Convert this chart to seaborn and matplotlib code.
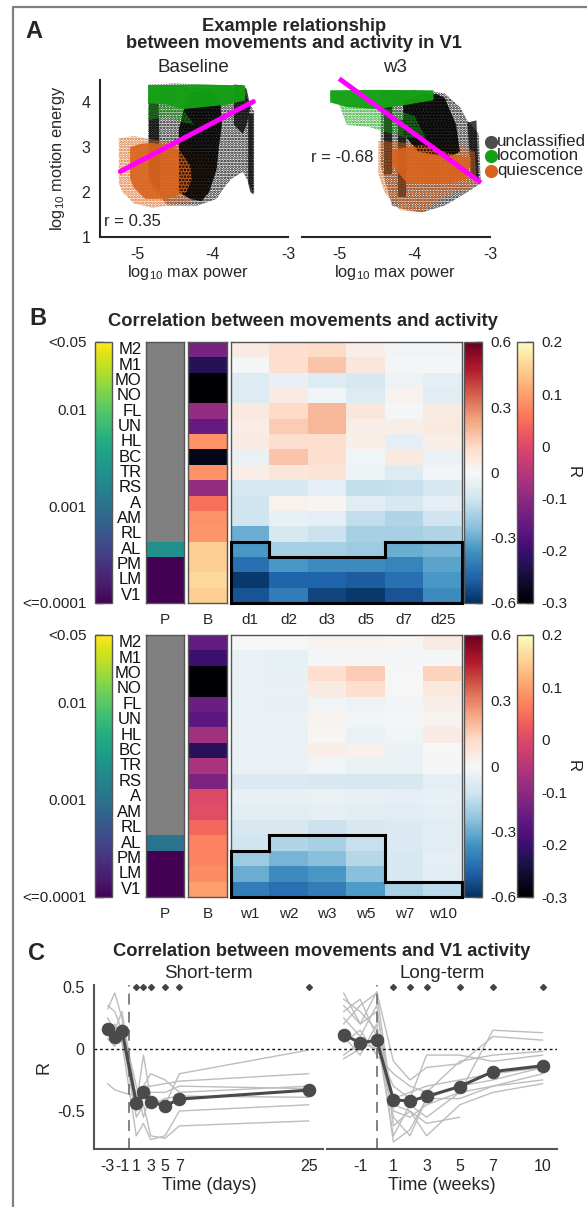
import numpy as np
import matplotlib
matplotlib.use("Agg")
import matplotlib.pyplot as plt
import seaborn as sns
import pandas as pd
from matplotlib.colors import LogNorm, Normalize
from matplotlib.cm import ScalarMappable
from matplotlib.lines import Line2D
from matplotlib.ticker import LogLocator, NullFormatter

# ----------------------------------------------------------------- data
nan = np.nan
regions = ['M2', 'M1', 'MO', 'NO', 'FL', 'UN', 'HL', 'BC', 'TR', 'RS',
           'A', 'AM', 'RL', 'AL', 'PM', 'LM', 'V1']
day_cols = ['d1', 'd2', 'd3', 'd5', 'd7', 'd25']
week_cols = ['w1', 'w2', 'w3', 'w5', 'w7', 'w10']

p_short = [nan] * 13 + [0.0022, 0.0001, 0.0001, 0.0001]
p_long = [nan] * 13 + [0.0011, 0.0001, 0.0001, 0.0001]

b_short = [-0.125, -0.225, -0.30, -0.30, -0.09, -0.15, 0.085, -0.275, 0.085,
           -0.09, 0.05, 0.085, 0.09, 0.15, 0.15, 0.16, 0.15]
b_long = [-0.15, -0.20, -0.30, -0.30, -0.14, -0.16, -0.075, -0.22, -0.065,
          -0.12, 0.0, 0.005, 0.04, 0.07, 0.07, 0.08, 0.10]

r_short = [
    [0.05, 0.10, 0.12, 0.04, -0.02, -0.02],
    [-0.01, 0.10, 0.17, 0.07, -0.01, -0.01],
    [-0.08, -0.05, -0.08, -0.10, -0.03, -0.06],
    [-0.08, 0.05, -0.02, -0.08, 0.02, -0.07],
    [0.06, 0.12, 0.20, 0.07, -0.01, 0.05],
    [0.04, 0.15, 0.20, 0.04, 0.04, 0.06],
    [0.05, 0.10, 0.10, 0.04, -0.06, 0.04],
    [-0.04, 0.17, 0.10, -0.02, 0.06, -0.04],
    [0.04, 0.07, 0.08, -0.03, -0.08, -0.02],
    [-0.10, -0.10, -0.06, -0.15, -0.14, -0.10],
    [-0.12, 0.02, 0.01, -0.07, -0.10, -0.06],
    [-0.12, -0.05, -0.06, -0.15, -0.18, -0.12],
    [-0.30, -0.10, -0.13, -0.20, -0.20, -0.18],
    [-0.35, -0.20, -0.20, -0.22, -0.30, -0.28],
    [-0.45, -0.35, -0.38, -0.38, -0.40, -0.32],
    [-0.58, -0.48, -0.48, -0.50, -0.45, -0.35],
    [-0.52, -0.42, -0.55, -0.58, -0.52, -0.38],
]
r_long = [
    [0.00, 0.00, 0.02, 0.02, 0.01, 0.05],
    [-0.04, -0.05, -0.01, -0.01, -0.01, -0.01],
    [-0.04, -0.05, 0.10, 0.15, 0.00, 0.14],
    [-0.04, -0.04, 0.05, 0.10, 0.00, 0.06],
    [-0.04, -0.05, -0.02, -0.03, -0.02, 0.04],
    [-0.04, -0.04, 0.02, -0.02, -0.01, 0.02],
    [-0.04, -0.04, 0.01, -0.04, -0.02, 0.05],
    [-0.04, -0.04, 0.04, 0.03, -0.04, 0.00],
    [-0.04, -0.04, -0.02, -0.04, -0.04, -0.01],
    [-0.09, -0.09, -0.10, -0.10, -0.10, -0.06],
    [-0.05, -0.05, -0.04, -0.05, -0.06, -0.05],
    [-0.07, -0.07, -0.06, -0.07, -0.07, -0.06],
    [-0.10, -0.10, -0.13, -0.10, -0.09, -0.07],
    [-0.12, -0.18, -0.20, -0.14, -0.09, -0.07],
    [-0.22, -0.28, -0.25, -0.17, -0.10, -0.06],
    [-0.30, -0.38, -0.35, -0.25, -0.10, -0.07],
    [-0.42, -0.45, -0.42, -0.34, -0.20, -0.16],
]
sig_short = [[0] * 6] * 13 + [[1, 0, 0, 0, 1, 1], [1] * 6, [1] * 6, [1] * 6]
sig_long = [[0] * 6] * 13 + [[0, 1, 1, 1, 0, 0], [1, 1, 1, 1, 0, 0],
                             [1, 1, 1, 1, 0, 0], [1] * 6]

# panel C
days = [-3, -2, -1, 1, 2, 3, 5, 7, 25]
mean_days = [0.163, 0.093, 0.147, -0.436, -0.351, -0.425, -0.46, -0.404, -0.332]
animals_days = [
    [0.32, 0.45, 0.25, -0.45, -0.05, -0.40, -0.45, -0.20, -0.01],
    [0.20, 0.05, 0.10, -0.55, -0.45, -0.70, -0.72, -0.62, -0.58],
    [-0.28, -0.33, -0.35, -0.38, -0.30, -0.30, -0.28, -0.26, -0.20],
    [0.12, 0.20, 0.05, -0.70, -0.60, -0.73, -0.70, -0.50, -0.45],
    [0.25, 0.15, 0.30, -0.40, -0.35, -0.45, -0.40, -0.38, -0.39],
    [0.08, 0.02, 0.20, -0.30, -0.55, -0.35, -0.35, -0.30, -0.32],
    [0.35, 0.30, 0.15, -0.50, -0.30, -0.20, -0.25, -0.35, -0.30],
]
sig_days = [1, 2, 3, 5, 7, 25]
weeks = [-2, -1, 0, 1, 2, 3, 5, 7, 10]
mean_weeks = [0.115, 0.048, 0.069, -0.41, -0.42, -0.383, -0.303, -0.183, -0.136]
animals_weeks = [
    [0.45, 0.20, 0.46, -0.10, -0.25, -0.15, -0.12, 0.10, 0.07],
    [0.30, 0.40, 0.10, -0.55, -0.70, -0.40, -0.30, -0.25, -0.15],
    [0.25, 0.10, 0.35, -0.62, -0.50, -0.70, -0.45, -0.35, -0.28],
    [-0.05, 0.05, 0.00, -0.30, -0.40, -0.05, -0.05, -0.10, -0.05],
    [0.10, -0.05, 0.20, -0.75, -0.65, -0.40, -0.40, -0.30, -0.25],
    [0.35, 0.20, 0.30, -0.45, -0.50, -0.60, -0.55, nan, nan],
    [0.05, 0.15, -0.05, -0.20, -0.30, -0.35, -0.10, -0.05, -0.02],
    [0.40, 0.30, 0.15, -0.40, -0.35, -0.30, -0.25, -0.20, -0.15],
    [-0.08, 0.00, 0.10, -0.70, -0.45, -0.55, -0.35, -0.30, -0.20],
    [0.20, 0.35, 0.45, -0.50, -0.55, -0.45, -0.35, 0.15, 0.13],
]
sig_weeks = [1, 2, 3, 5, 7, 10]

# panel A: outlines of the point clouds (log10 max power, log10 motion energy)
# baseline session
base_black_x = [-4.86, -4.5, -4.1, -3.8, -3.62, -3.55, -3.45, -3.45, -3.55, -3.6,
                -3.75, -3.85, -3.95, -4.2, -4.6, -4.86]
base_black_y = [4.4, 4.42, 4.4, 4.38, 4.35, 4.1, 3.8, 1.95, 2.3, 2.45,
                2.3, 2.1, 1.85, 1.7, 1.7, 2.2]
base_blackcore_x = [-4.45, -4.38, -4.3, -4.15, -4.05, -3.95, -3.9, -3.88, -3.92,
                    -3.95, -4.05, -4.15, -4.3, -4.45]
base_blackcore_y = [3.4, 3.9, 4.2, 4.25, 4.3, 4.2, 4.0, 3.5, 3.0, 2.5, 2.0, 1.8, 1.85, 2.0]
base_streak1_x = [-3.53, -3.46, -3.46, -3.5, -3.53]
base_streak1_y = [3.75, 3.75, 1.95, 2.0, 2.2]
base_streak2_x = [-3.72, -3.6, -3.55, -3.5, -3.55, -3.6, -3.72]
base_streak2_y = [4.4, 4.38, 4.3, 3.9, 3.5, 3.3, 3.5]
base_streak3_x = [-4.85, -4.72, -4.7, -4.85]
base_streak3_y = [4.0, 4.0, 2.0, 2.3]
base_orange_x = [-5.25, -5.05, -4.9, -4.7, -4.5, -4.35, -4.1, -3.95, -4.05, -4.1,
                 -4.3, -4.45, -4.6, -4.8, -5.05, -5.2, -5.25]
base_orange_y = [3.2, 3.25, 3.2, 3.15, 3.1, 3.05, 2.95, 2.5, 2.2, 1.9,
                 1.8, 1.75, 1.7, 1.65, 1.75, 2.0, 2.2]
base_orangecore_x = [-5.1, -4.95, -4.8, -4.6, -4.45, -4.3, -4.28, -4.35, -4.6, -4.9, -5.05, -5.1]
base_orangecore_y = [3.0, 3.08, 3.1, 3.02, 2.95, 2.6, 2.3, 2.0, 1.85, 1.85, 2.1, 2.3]
base_green_x = [-4.86, -4.2, -3.57, -3.57, -3.8, -4.1, -4.4, -4.6, -4.86]
base_green_y = [4.38, 4.4, 4.38, 4.05, 3.95, 3.9, 3.85, 3.95, 3.98]
base_greentail_x = [-4.86, -4.55, -4.4, -4.25, -4.5, -4.6, -4.86]
base_greentail_y = [4.0, 3.95, 3.85, 3.5, 3.6, 3.7, 3.6]
# week-3 session
w3_black_x = [-4.45, -4.2, -4.0, -3.8, -3.6, -3.4, -3.3, -3.15, -3.12, -3.3,
              -3.4, -3.6, -3.9, -4.1, -4.3, -4.45]
w3_black_y = [4.25, 4.27, 4.28, 4.25, 4.2, 3.9, 3.6, 3.3, 2.2, 2.0,
              1.9, 1.7, 1.55, 1.6, 1.7, 2.6]
w3_blackcore_x = [-4.15, -4.0, -3.85, -3.7, -3.6, -3.45, -3.4, -3.5, -3.6, -3.95, -4.15]
w3_blackcore_y = [4.0, 4.12, 4.2, 4.18, 4.1, 3.5, 2.9, 2.82, 2.8, 2.9, 3.3]
w3_streak1_x = [-3.3, -3.18, -3.15, -3.25]
w3_streak1_y = [3.55, 3.6, 2.3, 2.3]
w3_streak2_x = [-4.4, -4.3, -4.3, -4.4]
w3_streak2_y = [3.9, 3.9, 2.4, 2.4]
w3_streak3_x = [-4.22, -4.12, -4.12, -4.22]
w3_streak3_y = [3.6, 3.6, 1.9, 1.9]
w3_orange_x = [-4.48, -4.3, -4.1, -3.85, -3.6, -3.4, -3.2, -3.18, -3.3, -3.5,
               -3.7, -3.9, -4.2, -4.4, -4.48]
w3_orange_y = [3.15, 3.12, 3.1, 3.15, 3.15, 3.05, 2.9, 2.2, 2.05, 2.0,
               1.8, 1.55, 1.6, 2.0, 2.4]
w3_orangecore_x = [-4.3, -4.1, -3.9, -3.7, -3.5, -3.25, -3.28, -3.3, -3.5, -3.7, -4.1, -4.3]
w3_orangecore_y = [2.95, 3.0, 3.05, 2.95, 2.85, 2.75, 2.5, 2.3, 2.2, 2.2, 2.2, 2.6]
w3_green_x = [-5.12, -4.5, -3.75, -3.75, -4.1, -4.5, -4.9, -5.12]
w3_green_y = [4.27, 4.28, 4.27, 4.05, 3.95, 3.85, 3.9, 4.0]
w3_greentail_x = [-5.0, -4.6, -4.3, -4.0, -3.85, -4.0, -4.2, -4.6, -4.9]
w3_greentail_y = [3.95, 3.9, 3.85, 3.7, 3.2, 3.2, 3.25, 3.45, 3.5]

fit_base_x = [-5.23, -3.46]
fit_base_y = [2.46, 4.02]
fit_w3_x = [-5.0, -3.12]
fit_w3_y = [4.53, 2.21]
r_base = 0.35
r_w3 = -0.68

# ----------------------------------------------------------------- style
sns.set_theme(style="white")
plt.rcParams['font.family'] = ['Liberation Sans', 'DejaVu Sans']
plt.rcParams['mathtext.fontset'] = 'custom'
plt.rcParams['mathtext.rm'] = 'Liberation Sans'
plt.rcParams['mathtext.it'] = 'Liberation Sans:italic'
plt.rcParams['axes.unicode_minus'] = False
plt.rcParams['hatch.linewidth'] = 1.3
plt.rcParams['axes.linewidth'] = 1.2

W, H = 587, 1207
fig = plt.figure(figsize=(W / 100, H / 100), dpi=100)
fig.patch.set_facecolor('white')

DARK = '#262626'
GREEN = '#13a013'
ORANGE = '#d9631c'
TICK = 11
TITLE = 13.2


def ax_px(x0, y0, x1, y1):
    return fig.add_axes([x0 / W, 1 - y1 / H, (x1 - x0) / W, (y1 - y0) / H])


def ftext(x, y, s, **kw):
    kw.setdefault('ha', 'center')
    kw.setdefault('va', 'center')
    return fig.text(x / W, 1 - y / H, s, **kw)


# outer frame
fig.add_artist(Line2D([12.7 / W, 12.7 / W], [1 - 6.7 / H, 0], transform=fig.transFigure,
                      color='#808080', lw=1.6))
fig.add_artist(Line2D([12.7 / W, 1], [1 - 6.7 / H, 1 - 6.7 / H], transform=fig.transFigure,
                      color='#808080', lw=1.6))

# ================================================================= panel A
ftext(25, 31.5, 'A', ha='left', fontsize=17, fontweight='bold')
ftext(294, 26.7, 'Example relationship', fontsize=TITLE, fontweight='bold', color=DARK)
ftext(294, 43.3, 'between movements and activity in V1', fontsize=TITLE,
      fontweight='bold', color=DARK)


def cloud(ax, xs, ys, color, hatch=None, alpha=1.0, z=1):
    if hatch is None:
        ax.fill(xs, ys, facecolor=color, edgecolor='none', lw=0, alpha=alpha, zorder=z)
    else:
        ax.fill(xs, ys, facecolor='none', edgecolor=color, hatch=hatch, lw=0,
                alpha=alpha, zorder=z)


def scatter_panel(ax, p):
    cloud(ax, p['black_x'], p['black_y'], 'black', hatch='......', z=1)
    for k in ['streak1', 'streak2', 'streak3']:
        cloud(ax, p[k + '_x'], p[k + '_y'], 'black', alpha=0.75, z=1)
    cloud(ax, p['orange_x'], p['orange_y'], ORANGE, hatch='......', z=2)
    cloud(ax, p['blackcore_x'], p['blackcore_y'], 'black', alpha=0.8, z=3)
    cloud(ax, p['orangecore_x'], p['orangecore_y'], ORANGE, alpha=0.9, z=4)
    cloud(ax, p['blackcore_x'], p['blackcore_y'], 'black', hatch='.....', z=4)
    cloud(ax, p['green_x'], p['green_y'], GREEN, alpha=0.97, z=5)
    cloud(ax, p['greentail_x'], p['greentail_y'], GREEN, hatch='......', z=5)
    ax.set_xlim(-5.5, -3)
    ax.set_ylim(1, 4.5)
    ax.set_xticks([-5, -4, -3])
    ax.set_yticks([1, 2, 3, 4])
    sns.despine(ax=ax)
    for s in ['left', 'bottom']:
        ax.spines[s].set_color(DARK)
        ax.spines[s].set_linewidth(1.5)
    ax.tick_params(direction='in', length=4, width=1, colors=DARK, labelsize=TICK + 0.5,
                   labelcolor=DARK, pad=7)
    ax.set_facecolor('none')


def session(prefix):
    g = globals()
    keys = ['black', 'blackcore', 'streak1', 'streak2', 'streak3', 'orange',
            'orangecore', 'green', 'greentail']
    d = {}
    for k in keys:
        d[k + '_x'] = g[prefix + k + '_x']
        d[k + '_y'] = g[prefix + k + '_y']
    return d


axB = ax_px(100, 80, 288, 237)
scatter_panel(axB, session('base_'))
sns.lineplot(x=fit_base_x, y=fit_base_y, ax=axB, color='#ff00ff', lw=3.5, zorder=10)
axB.text(-5.45, 1.35, f'r = {r_base:.2f}', fontsize=12, color=DARK, va='center')

axW = ax_px(301.5, 80, 490, 237)
scatter_panel(axW, session('w3_'))
axW.plot(fit_w3_x, fit_w3_y, color='#ff00ff', lw=3.5, zorder=10, clip_on=False,
         solid_capstyle='butt')
axW.spines['left'].set_visible(False)
axW.tick_params(axis='y', left=False, labelleft=False)
axW.text(-5.38, 2.78, f'r = {r_w3:.2f}', fontsize=12, color=DARK, va='center')

ftext(193, 67, 'Baseline', fontsize=13.5, color=DARK)
ftext(395, 67, 'w3', fontsize=13.5, color=DARK)
ftext(188, 272, 'log$_{10}$ max power', fontsize=11.8, color=DARK)
ftext(395, 272, 'log$_{10}$ max power', fontsize=11.8, color=DARK)
ftext(58, 158, 'log$_{10}$ motion energy', fontsize=11.8, rotation=90, color=DARK)

# legend
for yy, lab, col in [(141.7, 'unclassified', '#4d4d4d'), (156, 'locomotion', GREEN),
                     (171, 'quiescence', ORANGE)]:
    fig.add_artist(Line2D([490.6 / W], [1 - yy / H], transform=fig.transFigure,
                          marker='o', ms=8.5, color=col, lw=0))
    ftext(497, yy, lab, ha='left', fontsize=12.2, color=DARK)

# ================================================================= panel B
ftext(29, 318.5, 'B', ha='left', fontsize=17, fontweight='bold')
ftext(303, 322, 'Correlation between movements and activity', fontsize=TITLE,
      fontweight='bold', color=DARK)


def frame(ax, col='#555555', lw=1.0):
    for s in ax.spines.values():
        s.set_visible(True)
        s.set_color(col)
        s.set_linewidth(lw)


def sig_outline(ax, mask):
    m = np.array(mask, bool)
    nr, nc = m.shape
    kw = dict(color='black', lw=2.2, clip_on=False, solid_capstyle='projecting', zorder=10)
    for i in range(nr):
        for j in range(nc):
            if not m[i, j]:
                continue
            if i == 0 or not m[i - 1, j]:
                ax.plot([j, j + 1], [i, i], **kw)
            if i == nr - 1 or not m[i + 1, j]:
                ax.plot([j, j + 1], [i + 1, i + 1], **kw)
            if j == 0 or not m[i, j - 1]:
                ax.plot([j, j], [i, i + 1], **kw)
            if j == nc - 1 or not m[i, j + 1]:
                ax.plot([j + 1, j + 1], [i, i + 1], **kw)


def block(y0, y1, pvals, bvals, rvals, cols, mask):
    # p-value colorbar
    cax = ax_px(95, y0, 111.7, y1)
    cb = fig.colorbar(ScalarMappable(norm=LogNorm(1e-4, 0.05), cmap='viridis'), cax=cax)
    cb.set_ticks([0.05, 0.01, 0.001, 0.0001])
    cb.set_ticklabels(['<0.05', '0.01', '0.001', '<=0.0001'])
    cax.yaxis.set_ticks_position('left')
    cax.yaxis.set_label_position('left')
    cax.yaxis.set_minor_locator(LogLocator(base=10, subs=np.arange(2, 10)))
    cax.yaxis.set_minor_formatter(NullFormatter())
    cax.tick_params(which='major', direction='in', length=6, width=1, colors='#222',
                    labelsize=TICK, pad=6)
    cax.tick_params(which='minor', direction='in', length=3, width=0.8, colors='#222')
    cb.outline.set_edgecolor('#555555')
    cb.outline.set_linewidth(1)

    # P column
    axp = ax_px(145.7, y0, 184.3, y1)
    lp = pd.DataFrame({'P': np.log10(np.array(pvals, float))}, index=regions)
    sns.heatmap(lp, ax=axp, cmap='viridis', vmin=-4, vmax=np.log10(0.05), cbar=False,
                yticklabels=True, xticklabels=True)
    axp.set_facecolor('#808080')
    axp.tick_params(length=0, labelsize=TICK, pad=3)
    axp.set_yticklabels(regions, rotation=0, fontsize=12, color='#111')
    axp.tick_params(axis='x', pad=7)
    axp.set_ylabel('')
    frame(axp)

    # B column
    axb = ax_px(188.3, y0, 226.7, y1)
    sns.heatmap(pd.DataFrame({'B': bvals}, index=regions), ax=axb, cmap='magma',
                vmin=-0.3, vmax=0.2, cbar=False, yticklabels=False)
    axb.tick_params(length=0, labelsize=TICK, pad=7)
    frame(axb)

    # correlation heatmap
    axh = ax_px(231, y0, 462, y1)
    sns.heatmap(pd.DataFrame(rvals, index=regions, columns=cols), ax=axh, cmap='RdBu_r',
                vmin=-0.6, vmax=0.6, cbar=False, yticklabels=False)
    axh.tick_params(length=0, labelsize=TICK, pad=7)
    for t in axh.get_xticklabels():
        t.set_rotation(0)
    frame(axh)
    sig_outline(axh, mask)

    # R colorbar
    cax2 = ax_px(464.3, y0, 481.7, y1)
    cb2 = fig.colorbar(ScalarMappable(norm=Normalize(-0.6, 0.6), cmap='RdBu_r'), cax=cax2)
    cb2.set_ticks([-0.6, -0.3, 0, 0.3, 0.6])
    cb2.set_ticklabels(['-0.6', '-0.3', '0', '0.3', '0.6'])
    cax2.tick_params(direction='in', length=5, width=1, colors='#222', labelsize=TICK, pad=6)
    cb2.outline.set_edgecolor('#555555')
    cb2.outline.set_linewidth(1)

    # B colorbar
    cax3 = ax_px(517.3, y0, 533.3, y1)
    cb3 = fig.colorbar(ScalarMappable(norm=Normalize(-0.3, 0.2), cmap='magma'), cax=cax3)
    cb3.set_ticks([-0.3, -0.2, -0.1, 0, 0.1, 0.2])
    cb3.set_ticklabels(['-0.3', '-0.2', '-0.1', '0', '0.1', '0.2'])
    cax3.tick_params(direction='in', length=5, width=1, colors='#222', labelsize=TICK, pad=6)
    cb3.outline.set_edgecolor('#555555')
    cb3.outline.set_linewidth(1)
    ftext(573, (y0 + y1) / 2, 'R', rotation=270, fontsize=12, color='#222')


block(342, 603, p_short, b_short, r_short, day_cols, sig_short)
block(635, 897, p_long, b_long, r_long, week_cols, sig_long)

# ================================================================= panel C
ftext(28, 954, 'C', ha='left', fontsize=17, fontweight='bold')
ftext(321.5, 952, 'Correlation between movements and V1 activity', fontsize=TITLE,
      fontweight='bold', color=DARK)
ftext(208, 973, 'Short-term', fontsize=13.5, color=DARK)
ftext(442, 973, 'Long-term', fontsize=13.5, color=DARK)

YLIM = (-0.806, 0.514)
MEAN_C = '#4a4a4a'


def time_panel(ax, x, mean, animals, sig, xlim, ticks, labels):
    for tr in animals:
        ax.plot(x, tr, color='#bdbdbd', lw=1.0, zorder=1)
    ax.axhline(0, ls=(0, (2, 2)), color='#111', lw=1, zorder=2)
    ax.axvline(0, ls=(0, (6, 4)), color='#777', lw=1.3, zorder=2)
    sns.lineplot(x=x, y=mean, ax=ax, color=MEAN_C, lw=2.2, marker='o', ms=9,
                 markeredgecolor=MEAN_C, zorder=5)
    ax.plot(sig, [0.5] * len(sig), 'D', color='#444', ms=3, lw=0, clip_on=False, zorder=6)
    ax.set_xlim(*xlim)
    ax.set_ylim(*YLIM)
    ax.set_xticks(ticks)
    ax.set_xticklabels(labels)
    sns.despine(ax=ax)
    for s in ['left', 'bottom']:
        ax.spines[s].set_color('#555')
        ax.spines[s].set_linewidth(1.5)
    ax.tick_params(direction='in', length=4, width=1, colors='#555', labelsize=TICK + 0.5,
                   labelcolor=DARK, pad=7)
    ax.set_facecolor('none')


axL = ax_px(94.3, 985, 323, 1149)
time_panel(axL, days, mean_days, animals_days, sig_days, (-4.85, 27),
           [-3, -2, -1, 1, 3, 5, 7, 25], ['-3', '', '-1', '1', '3', '5', '7', '25'])
axL.set_yticks([-0.5, 0, 0.5])
axL.set_yticklabels(['-0.5', '0', '0.5'])

axR = ax_px(327, 985, 556.7, 1149)
time_panel(axR, weeks, mean_weeks, animals_weeks, sig_weeks, (-3, 10.84),
           [-1, 1, 3, 5, 7, 10], ['-1', '1', '3', '5', '7', '10'])
axR.spines['left'].set_visible(False)
axR.tick_params(axis='y', left=False, labelleft=False)

ftext(44.3, 1067, 'R', rotation=90, fontsize=13, color=DARK)
ftext(209, 1186, 'Time (days)', fontsize=13, color=DARK)
ftext(442, 1186, 'Time (weeks)', fontsize=13, color=DARK)

fig.savefig('out.png', dpi=100)
